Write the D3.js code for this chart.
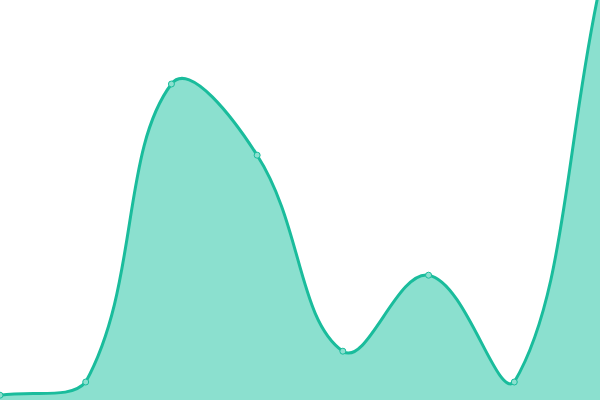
<!DOCTYPE html>
<html>
<head>
<meta charset="utf-8">
<script src="https://cdn.jsdelivr.net/npm/d3@7"></script>
<style>
  html, body { margin: 0; padding: 0; background: #fff; }
  svg { display: block; }
</style>
</head>
<body>
<svg id="chart" width="600" height="400"></svg>
<script>
// x positions are just the index
var categories = [0, 1, 2, 3, 4, 5, 6, 7];
var values = [1.2, 4.5, 79, 61.2, 12.2, 31.2, 4.5, 103.5];

var width = 600, height = 400;
var tension = 0.4;

var svg = d3.select("#chart");

var x = d3.scaleLinear()
    .domain([0, categories.length - 1])
    .range([0, width]);

var y = d3.scaleLinear()
    .domain([0, 100])
    .range([height, 0]);

var pts = categories.map(function (c, i) { return [c, values[i]]; });

// tension spline, control points kept inside the plot box
function inBox(p) {
    return p[0] >= -0.5 && p[0] <= width + 0.5 && p[1] >= -0.5 && p[1] <= height + 0.5;
}
function cap(c) {
    return [Math.max(0, Math.min(width, c[0])), Math.max(0, Math.min(height, c[1]))];
}

function SplineCurve(context) { this._context = context; }
SplineCurve.prototype = {
    areaStart: function () { this._line = 0; },
    areaEnd: function () { this._line = NaN; },
    lineStart: function () { this._pts = []; },
    point: function (px, py) { this._pts.push([+px, +py]); },
    lineEnd: function () {
        var p = this._pts, n = p.length, ctx = this._context;
        if (n) {
            if (this._line) ctx.lineTo(p[0][0], p[0][1]);
            else ctx.moveTo(p[0][0], p[0][1]);
        }
        var prevC = [], nextC = [];
        for (var i = 0; i < n; i++) {
            var a = p[Math.max(i - 1, 0)], m = p[i], b = p[Math.min(i + 1, n - 1)];
            var d01 = Math.hypot(m[0] - a[0], m[1] - a[1]);
            var d12 = Math.hypot(b[0] - m[0], b[1] - m[1]);
            var s01 = d01 / (d01 + d12), s12 = d12 / (d01 + d12);
            if (isNaN(s01)) s01 = 0;
            if (isNaN(s12)) s12 = 0;
            var fa = tension * s01, fb = tension * s12;
            prevC[i] = [m[0] - fa * (b[0] - a[0]), m[1] - fa * (b[1] - a[1])];
            nextC[i] = [m[0] + fb * (b[0] - a[0]), m[1] + fb * (b[1] - a[1])];
        }
        for (i = 0; i < n; i++) {
            if (!inBox(p[i])) continue;
            if (i > 0 && inBox(p[i - 1])) prevC[i] = cap(prevC[i]);
            if (i < n - 1 && inBox(p[i + 1])) nextC[i] = cap(nextC[i]);
        }
        for (i = 1; i < n; i++) {
            ctx.bezierCurveTo(nextC[i - 1][0], nextC[i - 1][1],
                prevC[i][0], prevC[i][1], p[i][0], p[i][1]);
        }
        if (this._line || (this._line !== 0 && n === 1)) ctx.closePath();
        this._line = 1 - this._line;
    }
};
function curveSpline(context) { return new SplineCurve(context); }

var area = d3.area()
    .x(function (d) { return x(d[0]); })
    .y0(height)
    .y1(function (d) { return y(d[1]); })
    .curve(curveSpline);

var line = d3.line()
    .x(function (d) { return x(d[0]); })
    .y(function (d) { return y(d[1]); })
    .curve(curveSpline);

svg.append("path")
    .datum(pts)
    .attr("d", area)
    .style("fill", "#8be0cf");

svg.append("path")
    .datum(pts)
    .attr("d", line)
    .style("fill", "none")
    .style("stroke", "#1abc9c")
    .style("stroke-width", 3);

svg.selectAll("circle")
    .data(pts)
    .enter().append("circle")
    .attr("cx", function (d) { return x(d[0]); })
    .attr("cy", function (d) { return y(d[1]); })
    .attr("r", 3)
    .style("fill", "#8be0cf")
    .style("stroke", "#1abc9c")
    .style("stroke-width", 1);
</script>
</body>
</html>
